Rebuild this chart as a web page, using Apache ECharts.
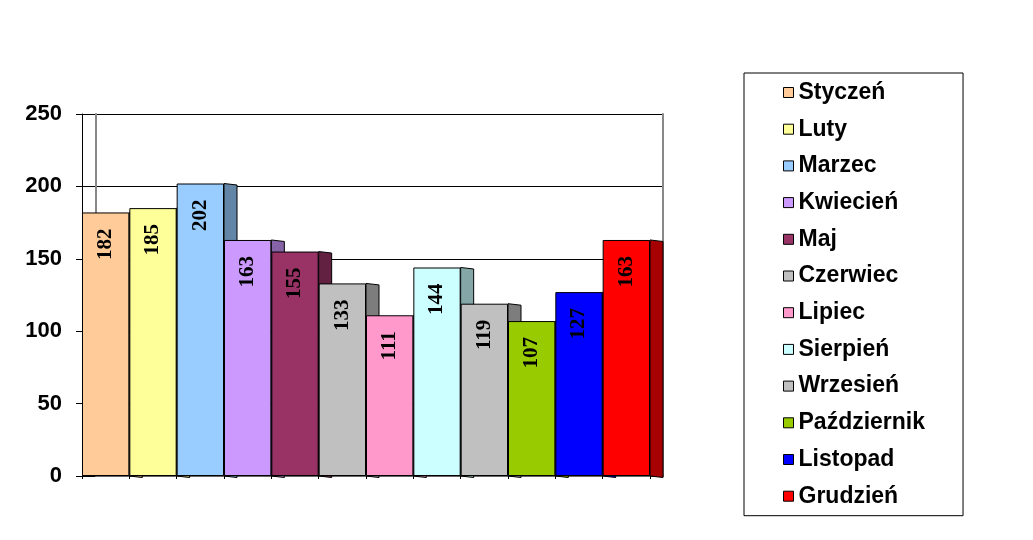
<!DOCTYPE html>
<html>
<head>
<meta charset="utf-8">
<script src="https://cdn.jsdelivr.net/npm/echarts@6/dist/echarts.min.js"></script>
<style>html,body{margin:0;padding:0;background:#fff;}#c{width:1033px;height:540px;}</style>
</head>
<body>
<div id="c"></div>
<script>
const months = ['Styczeń','Luty','Marzec','Kwiecień','Maj','Czerwiec','Lipiec','Sierpień','Wrzesień','Październik','Listopad','Grudzień'];
const values = [182,185,202,163,155,133,111,144,119,107,127,163];
const palette = ['#FFCC99','#FFFF99','#99CCFF','#CC99FF','#993366','#C0C0C0','#FF99CC','#CCFFFF','#C0C0C0','#99CC00','#0000FF','#FF0000'];
const yTicks = {min:0, max:250, interval:50};

function darken(hex, f){
  const n = parseInt(hex.slice(1),16);
  const r = Math.round(((n>>16)&255)*f), g = Math.round(((n>>8)&255)*f), b = Math.round((n&255)*f);
  return 'rgb('+r+','+g+','+b+')';
}
const sideColors = palette.map(c => darken(c, 0.65));

const chart = echarts.init(document.getElementById('c'));

const barSeries = months.map((m, i) => ({
  name: m,
  type: 'bar',
  stack: 'all',
  xAxisIndex: 0,
  yAxisIndex: 0,
  barWidth: '100%',
  z: 3,
  data: values.map((v, j) => j === i ? v : null),
  itemStyle: {color: palette[i], borderColor: '#000', borderWidth: 1},
  label: {
    show: true, position: 'insideTop', rotate: 90, align: 'right', verticalAlign: 'middle',
    distance: 16, fontFamily: 'Liberation Serif', fontWeight: 'bold', fontSize: 21, color: '#000'
  }
}));

const sideSeries = {
  type: 'custom',
  xAxisIndex: 0,
  yAxisIndex: 0,
  z: 1,
  silent: true,
  data: values.map((v, i) => [i, v]),
  renderItem: function(params, api){
    const i = api.value(0);
    const top = api.coord([i, api.value(1)]);
    const base = api.coord([i, 0]);
    const w = api.size([1, 0])[0];
    const xr = top[0] + w / 2;
    const d = 13;
    return {
      type: 'polygon',
      shape: {points: [[xr, top[1]], [xr + d, top[1] + 1.5], [xr + d, base[1] + 1.5], [xr, base[1]]]},
      style: {fill: sideColors[i], stroke: '#000', lineWidth: 1}
    };
  }
};

chart.setOption({
  animation: false,
  backgroundColor: '#fff',
  grid: [
    {left: 82, right: 383, top: 114, bottom: 64},
    {left: 96, right: 370, top: 114, bottom: 64}
  ],
  xAxis: [
    {type: 'category', gridIndex: 0, data: months,
     axisLine: {show: true, lineStyle: {color: '#000', width: 1}},
     axisTick: {show: true, length: 3, interval: 0, lineStyle: {color: '#000'}},
     axisLabel: {show: false}, splitLine: {show: false}},
    {type: 'category', gridIndex: 1, data: months,
     axisLine: {show: true, lineStyle: {color: '#666', width: 2}},
     axisTick: {show: false}, axisLabel: {show: false}, splitLine: {show: false}}
  ],
  yAxis: [
    {type: 'value', gridIndex: 0, min: yTicks.min, max: yTicks.max, interval: yTicks.interval,
     axisLine: {show: true, lineStyle: {color: '#000', width: 1}},
     axisTick: {show: true, length: 6, lineStyle: {color: '#000'}},
     axisLabel: {margin: 20, fontFamily: 'Liberation Sans', fontWeight: 'bold', fontSize: 22, color: '#000'},
     splitLine: {show: true, lineStyle: {color: '#000', width: 1}}},
    {type: 'value', gridIndex: 1, min: yTicks.min, max: yTicks.max, interval: yTicks.interval,
     axisLine: {show: true, lineStyle: {color: '#888', width: 2}},
     axisTick: {show: false}, axisLabel: {show: false},
     splitLine: {show: true, lineStyle: {color: '#000', width: 1}}},
    {type: 'value', gridIndex: 1, position: 'right', min: yTicks.min, max: yTicks.max, interval: yTicks.interval,
     axisLine: {show: true, lineStyle: {color: '#888', width: 2}},
     axisTick: {show: false}, axisLabel: {show: false}, splitLine: {show: false}}
  ],
  legend: {
    orient: 'vertical',
    left: 744, top: 73,
    padding: [8, 38, 8, 39],
    itemGap: 13.7,
    itemWidth: 10, itemHeight: 10,
    icon: 'rect',
    borderColor: '#000', borderWidth: 1,
    itemStyle: {borderColor: '#000', borderWidth: 1},
    textStyle: {fontFamily: 'Liberation Sans', fontWeight: 'bold', fontSize: 23, color: '#000'},
    data: months
  },
  series: [sideSeries].concat(barSeries)
});
</script>
</body>
</html>
